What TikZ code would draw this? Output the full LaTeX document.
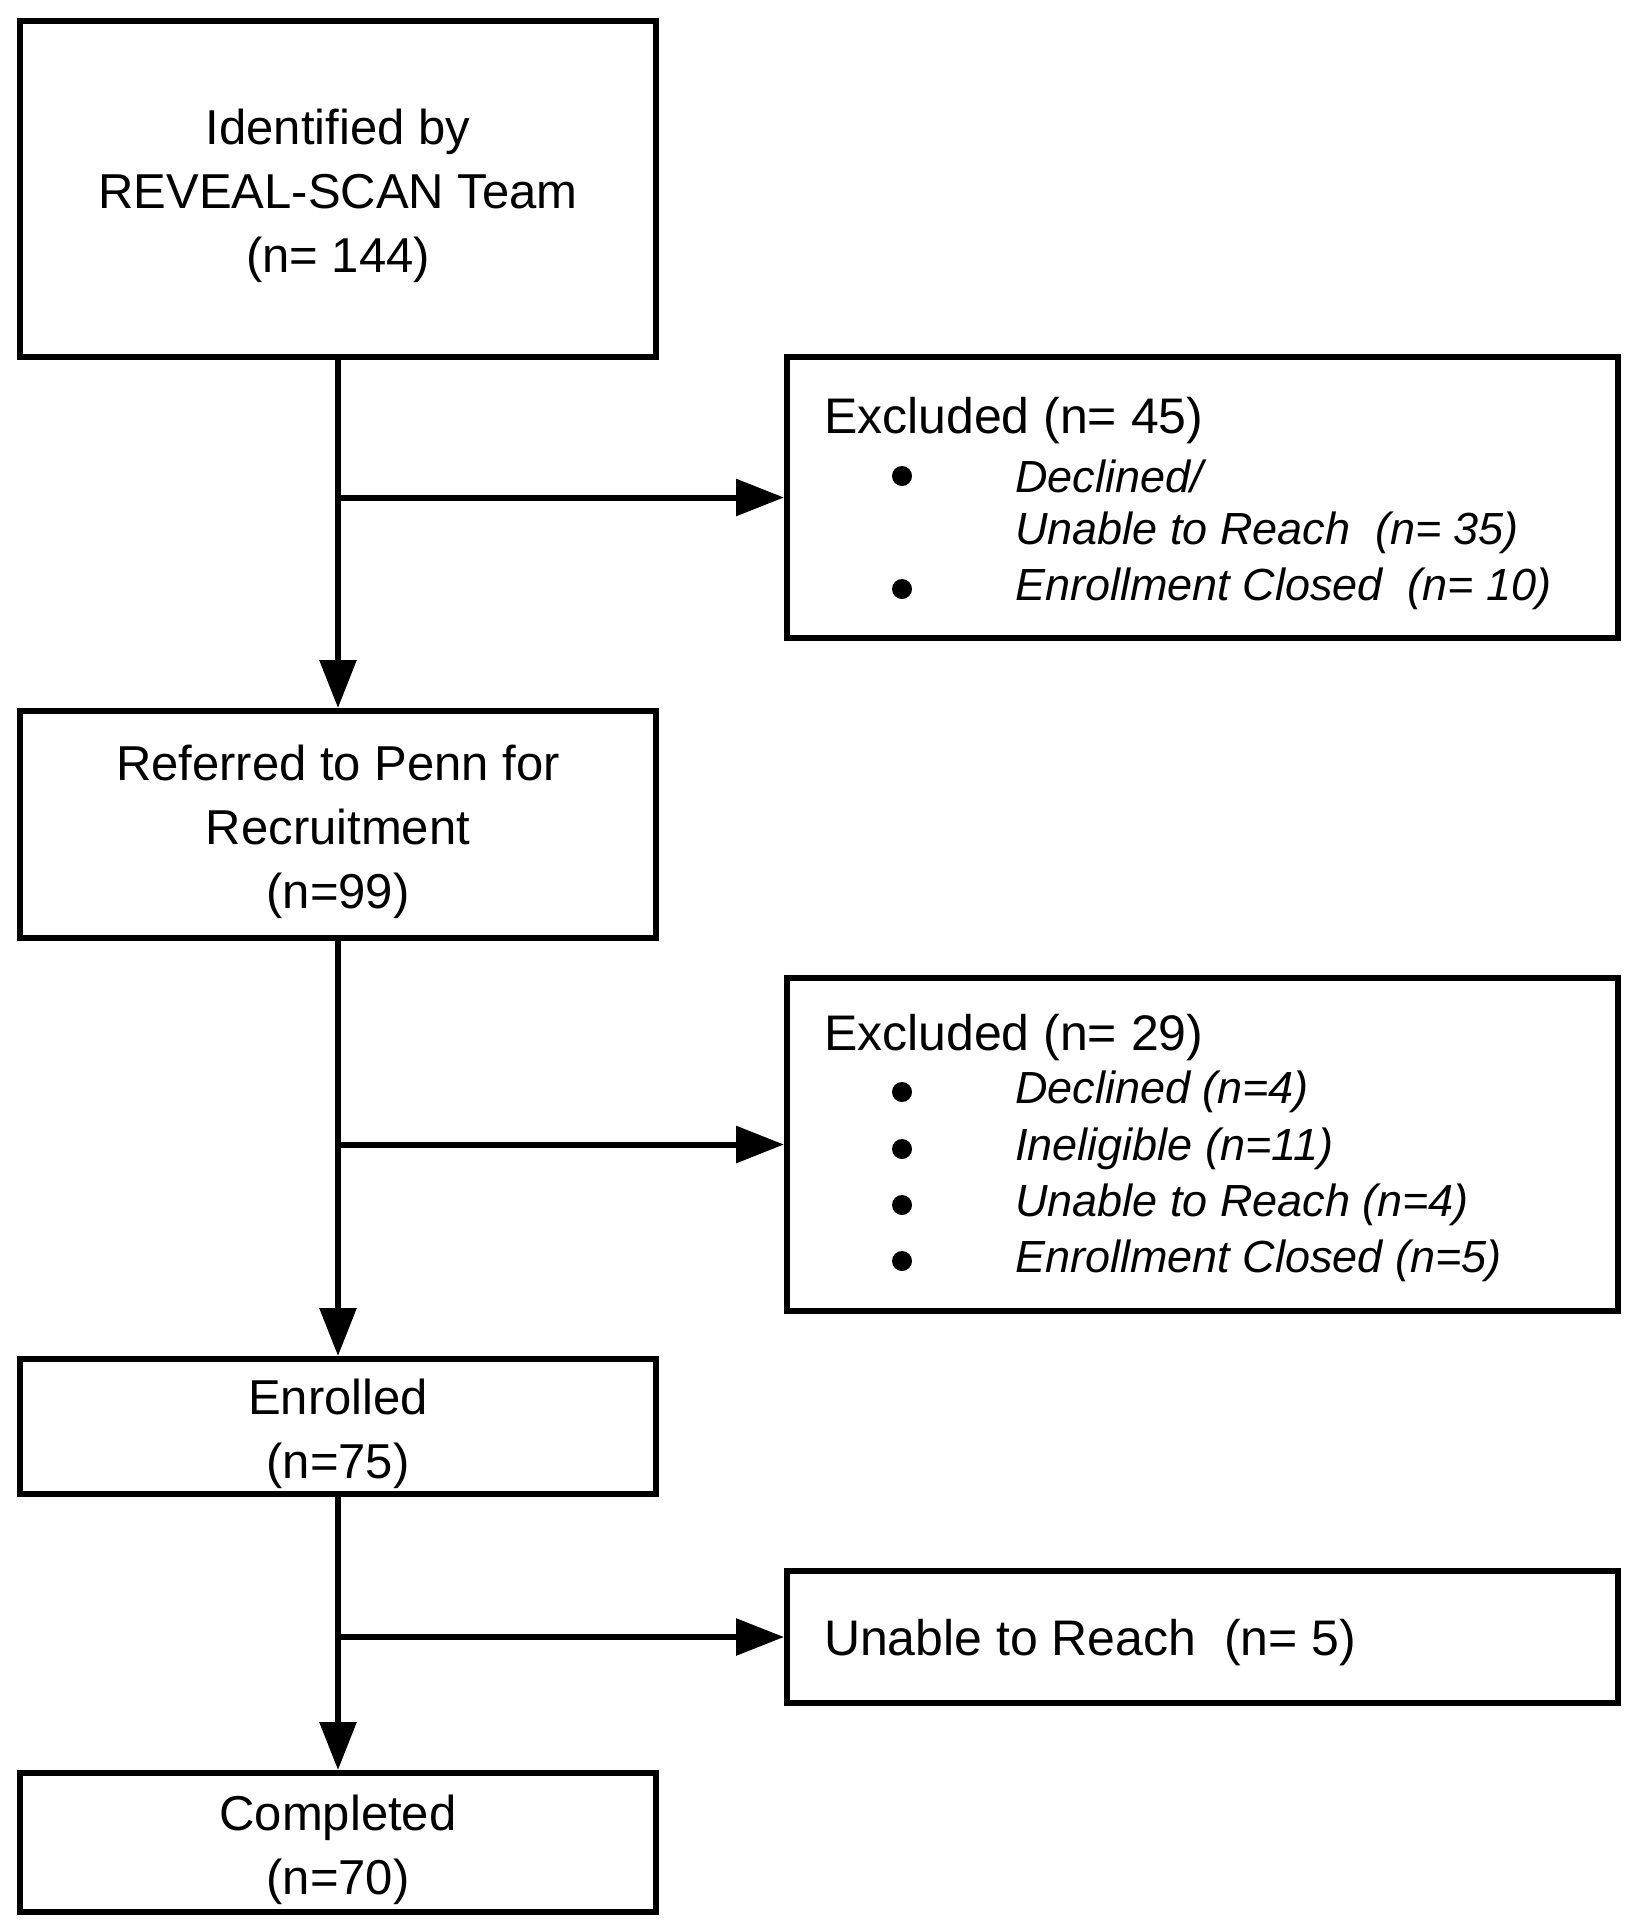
\documentclass[tikz,border=0pt]{standalone}
\usepackage{fontspec}
\setmainfont{Liberation Sans}
\usetikzlibrary{positioning, arrows.meta}

\newcommand\stagetext[1]{\raisebox{-7pt}[\height][\depth]{\begin{tabular}{@{}c@{}}#1\end{tabular}}}

\begin{document}
\begin{tikzpicture}[x=1pt, y=-1pt, >={Triangle[length=48pt, width=36pt]}, line width=6pt,
  stage/.style={draw, minimum width=636pt, inner sep=0pt, font=\fontsize{49}{64}\selectfont},
  side/.style={draw, minimum width=831pt, inner sep=0pt},
  side head/.style={anchor=west, inner sep=0pt, font=\fontsize{50}{64}\selectfont},
  side item/.style={anchor=west, inner sep=0pt, font=\fontsize{45}{56}\selectfont\itshape},
  dot/.style={circle, fill, draw=none, inner sep=0pt, minimum size=20pt}]
  \useasboundingbox (0,0) rectangle (1634,1920);

  % main column
  \node[stage, minimum height=336pt] (ident) at (338,189) {\stagetext{Identified by\\REVEAL-SCAN Team\\(n= 144)}};
  \node[stage, minimum height=227pt] (refer) at (338,824.5) {\stagetext{Referred to Penn for\\Recruitment\\(n=99)}};
  \node[stage, minimum height=135pt] (enrol) at (338,1426.5) {\stagetext{Enrolled\\(n=75)}};
  \node[stage, minimum height=139pt] (compl) at (338,1842.5) {\stagetext{Completed\\(n=70)}};

  % exclusion boxes
  \node[side, minimum height=281pt] (excl1) at (1202.5,497.5) {};
  \node[side head] (excl1h) at (821,421) {Excluded (n= 45)};
  \node[dot] (dot11) at (902,476) {};
  \node[side item] (item11) at (1012,476) {Declined/};
  \node[side item] (item12) at (1012,533) {Unable to Reach~~(n= 35)};
  \node[dot] (dot12) at (902,589) {};
  \node[side item] (item13) at (1012,589) {Enrollment Closed~~(n= 10)};

  \node[side, minimum height=333pt] (excl2) at (1202.5,1144.5) {};
  \node[side head] (excl2h) at (821,1038) {Excluded (n= 29)};
  \node[dot] (dot21) at (902,1092) {};
  \node[side item] (item21) at (1012,1092) {Declined (n=4)};
  \node[dot] (dot22) at (902,1149) {};
  \node[side item] (item22) at (1012,1149) {Ineligible (n=11)};
  \node[dot] (dot23) at (902,1205) {};
  \node[side item] (item23) at (1012,1205) {Unable to Reach (n=4)};
  \node[dot] (dot24) at (902,1261) {};
  \node[side item] (item24) at (1012,1261) {Enrollment Closed (n=5)};

  \node[side, minimum height=132pt] (unable) at (1202.5,1637) {};
  \node[side head] (unableh) at (821,1643) {Unable to Reach~~(n= 5)};

  \draw[->] (ident) -- (refer);
  \draw[->] (refer) -- (enrol);
  \draw[->] (enrol) -- (compl);

  % side branches
  \coordinate (split1) at (ident.south |- excl1.west);
  \coordinate (split2) at (refer.south |- excl2.west);
  \coordinate (split3) at (enrol.south |- unable.west);
  \draw[->] (split1) -- (excl1.west);
  \draw[->] (split2) -- (excl2.west);
  \draw[->] (split3) -- (unable.west);
\end{tikzpicture}
\end{document}
